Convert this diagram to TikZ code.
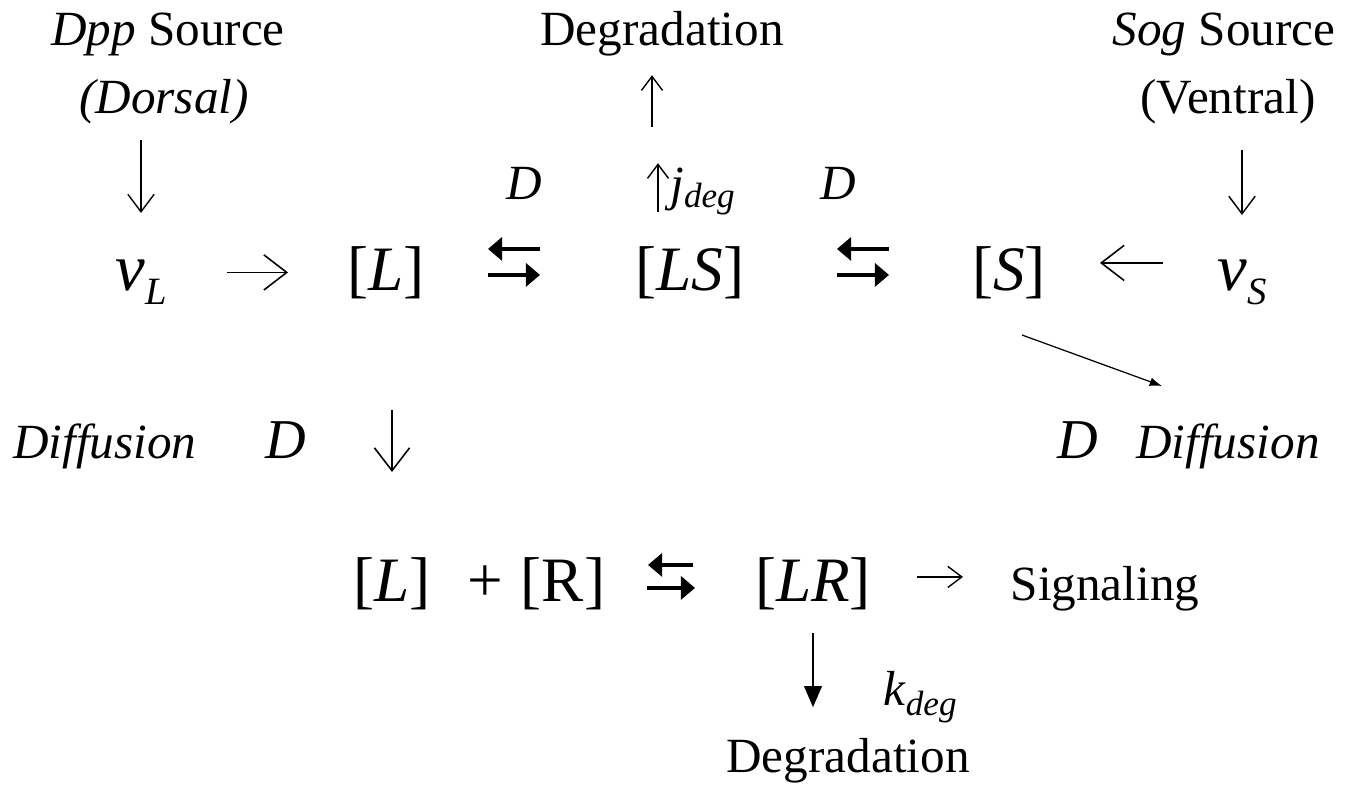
\documentclass[tikz,border=0pt]{standalone}
\usepackage{fontspec}
\setmainfont{Liberation Serif}
\usetikzlibrary{calc,arrows.meta}

% lowered subscript, as in the scanned figure
\newcommand{\lsub}[2][8.5pt]{\raisebox{-#1}{\fontsize{20}{22}\selectfont\itshape #2}}
\newcommand{\vsub}[1]{\raisebox{-8.5pt}{\fontsize{22}{24}\selectfont\itshape #1}}
\newcommand{\vsym}{{\fontsize{38}{40}\selectfont\itshape v}}

\begin{document}
\begin{tikzpicture}[x=0.02cm,y=-0.02cm,
  lbl/.style={font=\fontsize{28}{32}\selectfont, inner sep=0pt, text height=20pt, text depth=6pt},
  conc/.style={font=\fontsize{36}{40}\selectfont, inner sep=0pt, text height=27pt, text depth=7pt},
  bigD/.style={lbl, font=\fontsize{32}{36}\selectfont\itshape},
  thinarr/.style={line width=0.8pt, -{Straight Barb[length=8pt,width=12pt]}},
  srcarr/.style={line width=0.8pt, -{Straight Barb[length=10pt,width=15pt]}},
  longarr/.style={line width=0.9pt, -{Straight Barb[length=13pt,width=20pt]}},
  fatarr/.style={line width=2.4pt, -{Triangle[length=8pt,width=13pt]}},
  downarr/.style={line width=1.3pt, -{Triangle[length=12pt,width=10pt]}},
  diagarr/.style={line width=0.7pt, -{Latex[length=7pt,width=5pt]}}]
\useasboundingbox (0,0) rectangle (1358,785);

% sources
\node[lbl, anchor=base] (dppsrc) at (168,45) {\textit{Dpp} Source};
\node[lbl, anchor=base] (dorsal) at (164,113) {\textit{(Dorsal)}};
\node[lbl, anchor=base] (deg1) at (662,45) {Degradation};
\node[lbl, anchor=base] (sogsrc) at (1224,45) {\textit{Sog} Source};
\node[lbl, anchor=base] (ventral) at (1228,113) {(Ventral)};
\node[lbl, anchor=base] (Dl) at (524,199) {\textit{D}};
\node[lbl, anchor=base] (Dr) at (838,199) {\textit{D}};
\node[lbl, anchor=base west] (jdeg) at (670,200) {\textit{j}\lsub[4pt]{deg}};

% extracellular species
\node[conc, anchor=base] (vL) at (141,290) {\vsym\vsub{L}};
\node[conc, anchor=base] (L) at (386,290) {[\textit{L}]};
\node[conc, anchor=base] (LS) at (690,290) {[\textit{LS}]};
\node[conc, anchor=base] (S) at (1009,290) {[\textit{S}]};
\node[conc, anchor=base] (vS) at (1242,290) {\vsym\vsub{S}};

\node[lbl, anchor=base] (diffL) at (105,458) {\textit{Diffusion}};
\node[bigD, anchor=base] (DdL) at (286,458) {D};
\node[bigD, anchor=base] (DdR) at (1078,458) {D};
\node[lbl, anchor=base] (diffR) at (1228,458) {\textit{Diffusion}};

% receptor binding
\node[conc, anchor=base] (Lb) at (392,601) {[\textit{L}]};
\node[conc, anchor=base] (plus) at (485,601) {+};
\node[conc, anchor=base] (R) at (563,601) {[R]};
\node[conc, anchor=base] (LR) at (813,601) {[\textit{LR}]};
\node[lbl, anchor=base] (sig) at (1105,600) {Signaling};
\node[lbl, anchor=base west] (kdeg) at (883,705) {\textit{k}\lsub[6pt]{deg}};
\node[lbl, anchor=base] (deg2) at (848,772) {Degradation};

\coordinate (dstart) at (1022,335);
\coordinate (dend) at (1162,386);

% production
\draw[srcarr, shorten <=0.79cm, shorten >=1.19cm] (vL.center |- dorsal.center) -- (vL.center);
\draw[srcarr, shorten <=0.99cm, shorten >=1.15cm] (vS.center |- ventral.center) -- (vS.center);
\draw[longarr, shorten <=1.72cm, shorten >=1.96cm] (vL.center) -- (L.center);
\draw[longarr, shorten <=1.58cm, shorten >=1.82cm] ([yshift=0.19cm]vS.center) -- ([yshift=0.19cm]S.center);

% complex formation
\draw[fatarr, shorten <=3.0cm, shorten >=2.04cm] ([yshift=0.47cm]LS.center) -- ([yshift=0.47cm]L.center);
\draw[fatarr, shorten <=2.04cm, shorten >=3.0cm] ([yshift=-0.05cm]L.center) -- ([yshift=-0.05cm]LS.center);
\draw[fatarr, shorten <=2.4cm, shorten >=2.94cm] ([yshift=0.47cm]S.center) -- ([yshift=0.47cm]LS.center);
\draw[fatarr, shorten <=2.94cm, shorten >=2.4cm] ([yshift=-0.05cm]LS.center) -- ([yshift=-0.05cm]S.center);

% degradation of the complex
\draw[thinarr, shorten <=1.21cm, shorten >=2.61cm] ($(jdeg.west |- LS.center)+(-12,0)$) -- ($(jdeg.west |- deg1.center)+(-12,0)$);
\draw[thinarr, shorten <=2.91cm, shorten >=0.85cm] ($(deg1.center |- LS.center)+(-10,0)$) -- ($(deg1.center)+(-10,0)$);

\draw[diagarr] (dstart) -- (dend);
\draw[longarr, shorten <=2.75cm, shorten >=2.23cm] (Lb.center |- L.center) -- (Lb.center);

% binding and signaling
\draw[fatarr, shorten <=2.4cm, shorten >=1.7cm] ([yshift=0.37cm]LR.center) -- ([yshift=0.37cm]R.center);
\draw[fatarr, shorten <=1.68cm, shorten >=2.36cm] ([yshift=-0.09cm]R.center) -- ([yshift=-0.09cm]LR.center);
\draw[thinarr, shorten <=2.08cm, shorten >=2.84cm] ([yshift=0.13cm]LR.center) -- ([yshift=0.13cm]LR.center -| sig.center);
\draw[downarr, shorten <=0.99cm, shorten >=1.05cm] (LR.center) -- (LR.center |- deg2.center);
\end{tikzpicture}
\end{document}
